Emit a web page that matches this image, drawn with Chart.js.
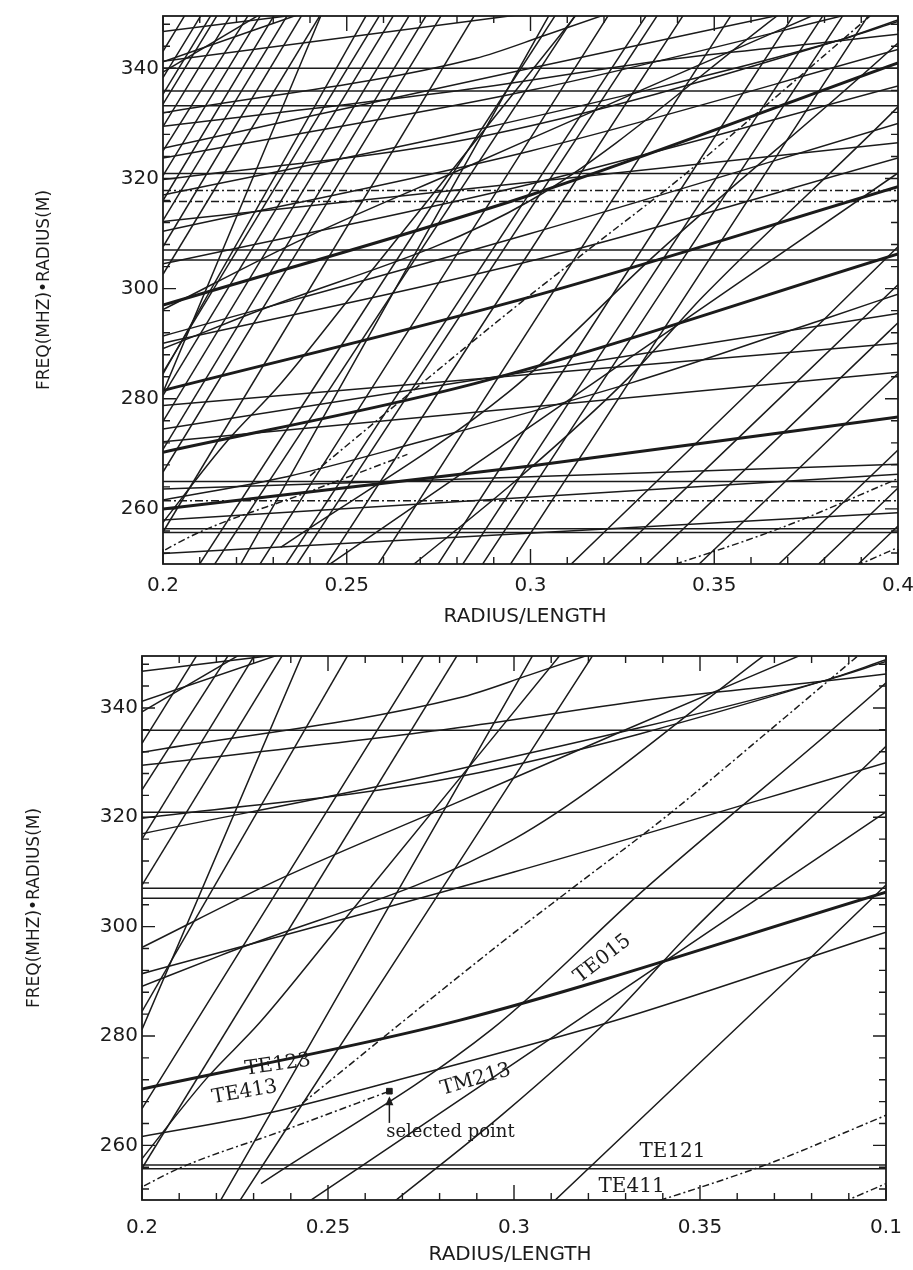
<!DOCTYPE html>
<html>
<head>
<meta charset="utf-8">
<script src="https://cdn.jsdelivr.net/npm/chart.js@4.4.1/dist/chart.umd.min.js"></script>
<style>
  body { margin: 0; background: #fff; width: 913px; height: 1270px; overflow: hidden; }
  canvas { position: absolute; left: 0; }
</style>
</head>
<body>
<canvas id="topPanel" width="913" height="640" style="top:0"></canvas>
<canvas id="bottomPanel" width="913" height="630" style="top:640px"></canvas>
<script>
// axis ticks
const xTickValues = [0.2, 0.25, 0.3, 0.35, 0.4];
const xTickLabelsTop = ["0.2", "0.25", "0.3", "0.35", "0.4"];
const xTickLabelsBottom = ["0.2", "0.25", "0.3", "0.35", "0.1"];
const yTickValues = [260, 280, 300, 320, 340];

// modes drawn in both panels (x = radius/length, y = freq*radius)
const flatShared = [335.9, 320.9, 307.0, 305.2, 256.4, 255.7];
const thickShared = [
  [[0.2, 270.3], [0.285, 282.8], [0.4, 306.3]],
];
const curveShared = [
  [[0.2, 346.7], [0.3, 355]],
  [[0.2, 341.2], [0.25, 352.8]],
  [[0.2, 339.3], [0.24, 355.2]],
  [[0.2, 331.9], [0.285, 341.8], [0.304, 346.0], [0.33, 352]],
  [[0.2, 329.5], [0.283, 336.2], [0.34, 341.8], [0.383, 344.9], [0.4, 346.2]],
  [[0.2, 317.0], [0.285, 328.8], [0.383, 344.9], [0.4, 348.5]],
  [[0.2, 319.8], [0.285, 327.4], [0.383, 344.9], [0.4, 348.8]],
  [[0.2, 296.2], [0.238, 309.0], [0.284, 322.5], [0.33, 336.0], [0.38, 350.5]],
  [[0.2, 291.4], [0.3, 310.0], [0.4, 330.0]],
  [[0.2, 289.1], [0.221, 294.7], [0.3, 316.0], [0.37, 351]],
  [[0.2, 261.6], [0.234, 265.9], [0.269, 272.0], [0.327, 282.8], [0.38, 294.5], [0.4, 299.0]],
  [[0.2, 333.5], [0.216, 351]],
  [[0.2, 325.0], [0.2245, 351]],
  [[0.2, 316.0], [0.2315, 351]],
  [[0.2, 307.6], [0.239, 351]],
  [[0.2, 281.2], [0.2445, 352]],
  [[0.2, 284.5], [0.2565, 351]],
  [[0.2, 266.7], [0.277, 351]],
  [[0.2, 255.8], [0.286, 351]],
  [[0.199, 256.7], [0.2173, 272.2], [0.2316, 282.4], [0.2512, 298.6], [0.314, 351]],
  [[0.2195, 248], [0.3062, 351]],
  [[0.2245, 248], [0.2727, 298.6], [0.3225, 351]],
  [[0.308, 248], [0.38, 294.5], [0.4, 307.6], [0.41, 314]],
  [[0.2665, 249], [0.297, 265.7], [0.3265, 283.7], [0.347, 298.6], [0.4, 333], [0.41, 340]],
  [[0.232, 253], [0.294, 281.2], [0.3344, 306.4], [0.4, 344.6], [0.41, 351]],
  [[0.24, 247.5], [0.3, 275.0], [0.4, 321.0]],
];
const dashShared = [
  [[0.24, 266], [0.2961, 296.8], [0.3158, 307.1], [0.341, 320.2], [0.3687, 335.9], [0.383, 344.1], [0.395, 351]],
  [[0.32, 245.6], [0.3292, 247.7], [0.3687, 256.7], [0.4, 265.5]],
  [[0.37, 244.2], [0.4, 253.0]],
  [[0.197, 251.3], [0.21, 255.8], [0.238, 262.7], [0.2665, 269.9]],
];

// modes drawn only in the upper panel
const flatTopOnly = [340.0, 333.2, 265.0];
const flatDashTopOnly = [317.8, 315.8, 261.5];
const thickTopOnly = [
  [[0.2, 297.0], [0.3, 317.0], [0.4, 341.0]],
  [[0.2, 281.5], [0.3, 298.5], [0.4, 318.5]],
  [[0.2, 260.0], [0.3, 267.8], [0.4, 276.7]],
];
const curveTopOnly = [
  [[0.2, 274.5], [0.4, 295.5]],
  [[0.2, 263.6], [0.4, 268.1]],
  [[0.2, 251.9], [0.4, 259.3]],
  [[0.2, 278.8], [0.4, 290.1]],
  [[0.2, 272.2], [0.4, 284.8]],
  [[0.2, 290.1], [0.3, 305.0], [0.4, 323.7]],
  [[0.2, 304.5], [0.3, 319.0], [0.4, 336.8]],
  [[0.2, 310.4], [0.3, 325.0], [0.4, 343.4]],
  [[0.2, 312.2], [0.4, 326.5]],
  [[0.2, 323.7], [0.3, 336.0], [0.4, 352.0]],
  [[0.2, 325.5], [0.3, 340.0], [0.37, 350.0]],
  [[0.2, 341.3], [0.3, 350.0]],
  [[0.2, 258.0], [0.4, 266.3]],
  [[0.2, 343.1], [0.2072, 351]],
  [[0.2, 338.3], [0.2116, 351]],
  [[0.2, 335.3], [0.2143, 351]],
  [[0.2, 329.4], [0.2197, 351]],
  [[0.2, 320.5], [0.2278, 351]],
  [[0.2, 312.4], [0.2351, 351]],
  [[0.2, 302.6], [0.244, 351]],
  [[0.2, 284.8], [0.2602, 351]],
  [[0.2, 280.6], [0.264, 351]],
  [[0.2, 275.9], [0.2683, 351]],
  [[0.2, 270.8], [0.2729, 351]],
  [[0.209, 249], [0.3081, 351]],
  [[0.2325, 249], [0.3329, 351]],
  [[0.2436, 249], [0.3429, 351]],
  [[0.2576, 249], [0.3559, 351]],
  [[0.2739, 249], [0.3729, 351]],
  [[0.286, 249], [0.3864, 351]],
  [[0.2936, 249], [0.3933, 351]],
  [[0.2131, 249], [0.3135, 351]],
  [[0.2355, 249], [0.3359, 351]],
  [[0.2806, 249], [0.381, 351]],
  [[0.3208, 250], [0.4, 300.7]],
  [[0.3316, 250], [0.4, 293.8]],
  [[0.3459, 250], [0.4, 284.6]],
  [[0.3676, 250], [0.4, 270.7]],
  [[0.3784, 250], [0.4, 263.8]],
  [[0.3892, 250], [0.4, 256.9]],
];

// annotations of the lower panel
const selectedPoint = [0.2665, 269.9];
const modeLabels = [
  { text: "TE015", x: 0.3238, y: 294.1 },
  { text: "TE123", x: 0.2365, y: 274.7 },
  { text: "TE413", x: 0.2276, y: 269.7 },
  { text: "TM213", x: 0.2897, y: 272.0 },
  { text: "TE121", x: 0.3426, y: 258.9 },
  { text: "TE411", x: 0.3316, y: 252.4 },
  { text: "selected point", x: 0.2829, y: 262.3 },
];

const INK = "#1b1b1b";
const labelAngle = { TE015: -38, TE123: -8, TE413: -10, TM213: -16 };

function pts(line) {
  return line.map((p) => ({ x: p[0], y: p[1] }));
}
function flatSet(v, dash) {
  return { data: [{ x: 0.2, y: v }, { x: 0.4, y: v }], borderColor: INK, borderWidth: 1.5, borderDash: dash || [], pointRadius: 0 };
}
function curveSet(line, width, dash) {
  return { data: pts(line), borderColor: INK, borderWidth: width, borderDash: dash || [], pointRadius: 0, cubicInterpolationMode: "monotone" };
}

function sharedSets() {
  let sets = [];
  flatShared.forEach((v) => sets.push(flatSet(v)));
  curveShared.forEach((l) => sets.push(curveSet(l, 1.5)));
  dashShared.forEach((l) => sets.push(curveSet(l, 1.5, [7, 3, 2, 3])));
  thickShared.forEach((l) => sets.push(curveSet(l, 3)));
  return sets;
}

// frame, inward ticks, titles and labels
const panelDecor = {
  id: "panelDecor",
  afterDatasetsDraw(chart, args, o) {
    const { ctx, chartArea: a, scales } = chart;
    const x = scales.x, y = scales.y;
    ctx.save();
    ctx.strokeStyle = INK;
    ctx.lineWidth = 1.8;
    ctx.strokeRect(a.left, a.top, a.right - a.left, a.bottom - a.top);
    ctx.lineWidth = 1.4;
    ctx.beginPath();
    for (let i = 0; i <= 20; i++) {
      const px = x.getPixelForValue(0.2 + i * 0.01);
      const len = i % 5 ? 7 : 15;
      ctx.moveTo(px, a.bottom); ctx.lineTo(px, a.bottom - len);
      ctx.moveTo(px, a.top); ctx.lineTo(px, a.top + len);
    }
    for (let v = 252; v < 349.5; v += 4) {
      const py = y.getPixelForValue(v);
      const len = v % 20 ? 7 : 13;
      ctx.moveTo(a.left, py); ctx.lineTo(a.left + len, py);
      ctx.moveTo(a.right, py); ctx.lineTo(a.right - len, py);
    }
    ctx.stroke();

    ctx.fillStyle = INK;
    ctx.textAlign = "center";
    ctx.textBaseline = "middle";
    ctx.font = '20px "DejaVu Sans"';
    ctx.fillText("RADIUS/LENGTH", o.xTitleAt[0], o.xTitleAt[1]);
    ctx.save();
    ctx.translate(o.yTitleAt[0], o.yTitleAt[1]);
    ctx.rotate(-Math.PI / 2);
    ctx.font = '17px "DejaVu Sans"';
    ctx.fillText("FREQ(MHZ)\u2022RADIUS(M)", 0, 0);
    ctx.restore();

    if (o.annotate) {
      modeLabels.forEach((l) => {
        ctx.save();
        ctx.translate(x.getPixelForValue(l.x), y.getPixelForValue(l.y));
        ctx.rotate(((labelAngle[l.text] || 0) * Math.PI) / 180);
        ctx.font = l.text.length > 6 ? '18px "DejaVu Serif"' : '20px "DejaVu Serif"';
        ctx.fillText(l.text, 0, 0);
        ctx.restore();
      });
      // arrow up to the selected point
      const ax = x.getPixelForValue(selectedPoint[0]);
      const ay0 = y.getPixelForValue(264.1);
      const ay1 = y.getPixelForValue(268.6);
      ctx.lineWidth = 1.5;
      ctx.beginPath();
      ctx.moveTo(ax, ay0); ctx.lineTo(ax, ay1);
      ctx.stroke();
      ctx.beginPath();
      ctx.moveTo(ax, ay1 - 2); ctx.lineTo(ax - 4, ay1 + 7); ctx.lineTo(ax + 4, ay1 + 7);
      ctx.closePath();
      ctx.fill();
    }
    ctx.restore();
  },
};

function makePanel(id, sets, o) {
  return new Chart(document.getElementById(id), {
    type: "line",
    data: { datasets: sets },
    options: {
      responsive: false,
      animation: false,
      layout: { padding: { top: o.padTop, right: o.padRight, left: 0, bottom: 0 } },
      plugins: { legend: { display: false }, tooltip: { enabled: false }, panelDecor: o },
      scales: {
        x: {
          type: "linear", min: 0.2, max: 0.4,
          grid: { display: false, drawTicks: false }, border: { display: false },
          afterBuildTicks: (s) => { s.ticks = xTickValues.map((v) => ({ value: v })); },
          ticks: { callback: (v, i) => o.xLabels[i], font: { family: "DejaVu Sans", size: 20 }, color: INK, padding: o.xPad, maxRotation: 0, autoSkip: false },
          afterFit: (s) => { s.height = o.xHeight; s.paddingLeft = 0; s.paddingRight = 0; },
        },
        y: {
          type: "linear", min: 250, max: 349.5,
          grid: { display: false, drawTicks: false }, border: { display: false },
          afterBuildTicks: (s) => { s.ticks = yTickValues.map((v) => ({ value: v })); },
          ticks: { font: { family: "DejaVu Sans", size: 20 }, color: INK, padding: 4 },
          afterFit: (s) => { s.width = o.yWidth; },
        },
      },
    },
    plugins: [panelDecor],
  });
}

// upper panel: every mode
let topSets = sharedSets();
flatTopOnly.forEach((v) => topSets.push(flatSet(v)));
flatDashTopOnly.forEach((v) => topSets.push(flatSet(v, [8, 3, 2, 3])));
curveTopOnly.forEach((l) => topSets.push(curveSet(l, 1.5)));
thickTopOnly.forEach((l) => topSets.push(curveSet(l, 3)));
makePanel("topPanel", topSets, {
  padTop: 9, padRight: 15, yWidth: 163, xHeight: 76, xPad: 10,
  xLabels: xTickLabelsTop, xTitleAt: [525, 617], yTitleAt: [45, 290], annotate: false,
});

// lower panel: selected modes and the chosen working point
let bottomSets = sharedSets();
bottomSets.push({
  data: [{ x: selectedPoint[0], y: selectedPoint[1] }], showLine: false,
  pointStyle: "rect", pointRadius: 4, backgroundColor: INK, borderColor: INK,
});
makePanel("bottomPanel", bottomSets, {
  padTop: 7, padRight: 27, yWidth: 142, xHeight: 70, xPad: 16,
  xLabels: xTickLabelsBottom, xTitleAt: [510, 615], yTitleAt: [35, 268], annotate: true,
});
</script>
</body>
</html>
